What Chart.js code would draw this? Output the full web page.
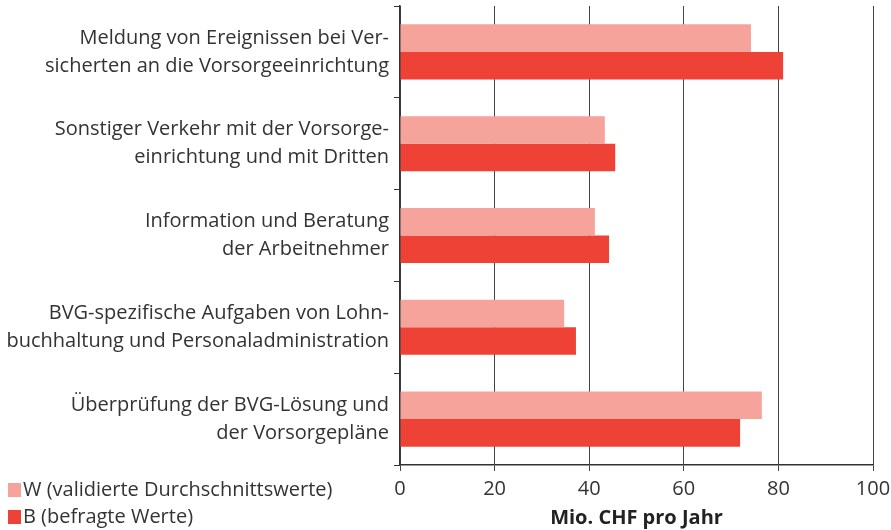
<!DOCTYPE html>
<html>
<head>
<meta charset="utf-8">
<script src="https://cdn.jsdelivr.net/npm/chart.js@4"></script>
<style>
  body { margin: 0; background: #fff; }
  #wrap { position: relative; width: 891px; height: 530px; }
  #legend { position: absolute; left: 8px; top: 475px; font: 20px "Open Sans", sans-serif; color: #333; }
  #legend div { height: 27px; line-height: 27px; white-space: nowrap; }
  #legend span { display: inline-block; width: 13px; height: 14px; margin-right: 2px; vertical-align: -1px; }
</style>
</head>
<body>
<div id="wrap">
  <canvas id="chart" width="891" height="530"></canvas>
  <div id="legend"></div>
</div>
<script>
const categories = [
  ['Meldung von Ereignissen bei Ver-', 'sicherten an die Vorsorgeeinrichtung'],
  ['Sonstiger Verkehr mit der Vorsorge-', 'einrichtung und mit Dritten'],
  ['Information und Beratung', 'der Arbeitnehmer'],
  ['BVG-spezifische Aufgaben von Lohn-', 'buchhaltung und Personaladministration'],
  ['Überprüfung der BVG-Lösung und', 'der Vorsorgepläne']
];
const seriesNames = ['W (validierte Durchschnittswerte)', 'B (befragte Werte)'];
const valuesW = [74.2, 43.3, 41.2, 34.7, 76.5];
const valuesB = [81.0, 45.5, 44.2, 37.2, 71.9];
const xTicks = [0, 20, 40, 60, 80, 100];
const colors = ['#f6a39b', '#ef4236'];

const legend = document.getElementById('legend');
seriesNames.forEach((name, i) => {
  const row = document.createElement('div');
  row.innerHTML = `<span style="background:${colors[i]}"></span>${name}`;
  legend.appendChild(row);
});

const font = { family: '"Open Sans", sans-serif', size: 20 };

new Chart(document.getElementById('chart').getContext('2d'), {
  type: 'bar',
  data: {
    labels: categories,
    datasets: [
      { label: seriesNames[0], data: valuesW, backgroundColor: colors[0] },
      { label: seriesNames[1], data: valuesB, backgroundColor: colors[1] }
    ]
  },
  options: {
    indexAxis: 'y',
    responsive: false,
    animation: false,
    layout: { padding: { top: 6, right: 18, bottom: 0, left: 0 } },
    datasets: { bar: { categoryPercentage: 0.6, barPercentage: 1 } },
    plugins: { legend: { display: false }, tooltip: { enabled: false } },
    scales: {
      x: {
        min: 0, max: 100,
        afterBuildTicks: (axis) => { axis.ticks = xTicks.map((v) => ({ value: v })); },
        grid: { color: '#444', lineWidth: 1, tickLength: 6 },
        border: { color: '#333', width: 1.5 },
        ticks: { font, color: '#333', padding: 6 },
        title: { display: true, text: 'Mio. CHF pro Jahr', font: { ...font, weight: 'bold' }, color: '#222', padding: { top: 0, bottom: 0 } },
        afterFit: (axis) => { axis.height = 65; axis.paddingLeft = 0; axis.paddingRight = 0; }
      },
      y: {
        grid: { offset: true, drawOnChartArea: false, color: '#333', tickLength: 6 },
        border: { color: '#333', width: 1.5 },
        ticks: { font: { ...font, lineHeight: 1.4 }, color: '#333', padding: 5 },
        afterFit: (axis) => { axis.width = 400; axis.paddingTop = 0; axis.paddingBottom = 0; }
      }
    }
  }
});
</script>
</body>
</html>
